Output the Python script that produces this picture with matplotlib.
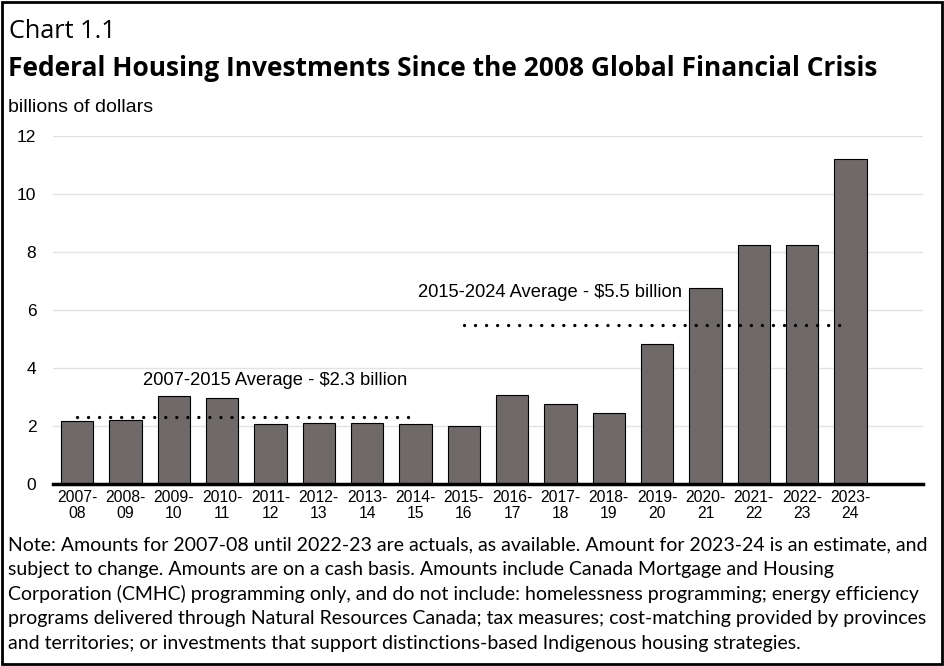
import matplotlib
matplotlib.use("Agg")
import matplotlib.pyplot as plt
from matplotlib.patches import Rectangle

# data
years = ["2007-\n08", "2008-\n09", "2009-\n10", "2010-\n11", "2011-\n12", "2012-\n13",
         "2013-\n14", "2014-\n15", "2015-\n16", "2016-\n17", "2017-\n18", "2018-\n19",
         "2019-\n20", "2020-\n21", "2021-\n22", "2022-\n23", "2023-\n24"]
values = [2.17, 2.2, 3.03, 2.97, 2.06, 2.1, 2.1, 2.06, 2.01, 3.06, 2.75, 2.46,
          4.83, 6.75, 8.23, 8.25, 11.22]
avg_early = 2.3
avg_late = 5.5
yticks = [0, 2, 4, 6, 8, 10, 12]

note_lines = [
    "Note: Amounts for 2007-08 until 2022-23 are actuals, as available. Amount for 2023-24 is an estimate, and",
    "subject to change. Amounts are on a cash basis. Amounts include Canada Mortgage and Housing",
    "Corporation (CMHC) programming only, and do not include: homelessness programming; energy efficiency",
    "programs delivered through Natural Resources Canada; tax measures; cost-matching provided by provinces",
    "and territories; or investments that support distinctions-based Indigenous housing strategies.",
]

W, H = 945, 666
fig = plt.figure(figsize=(W / 100, H / 100), dpi=100)

def fx(px):
    return px / W

def fy(py):
    return 1 - py / H

ax = fig.add_axes([fx(53), fy(484), fx(923) - fx(53), fy(136) - fy(484)])

x = list(range(len(values)))
ax.bar(x, values, width=0.675, color="#6f6a69", edgecolor="black", linewidth=0.8, zorder=3)

ax.set_xlim(-0.5, 17.5)
ax.set_ylim(0, 12)
ax.set_yticks(yticks)
ax.set_xticks(x)
ax.set_xticklabels(years, fontsize=11.3, family="Liberation Sans", linespacing=1.1)
ax.set_yticklabels([str(t) for t in yticks], fontsize=12.5, family="Liberation Sans")
ax.tick_params(axis="x", length=0, pad=4)
ax.tick_params(axis="y", length=0, pad=12)

ax.grid(axis="y", color="#e3e3e3", linewidth=1, zorder=0)
for s in ["top", "right", "left"]:
    ax.spines[s].set_visible(False)
ax.spines["bottom"].set_linewidth(2.5)
ax.spines["bottom"].set_zorder(4)

# average lines
ax.plot([0, 6.87], [avg_early, avg_early], color="black", linewidth=2.4,
        linestyle=(0, (0.01, 3.3)), dash_capstyle="round", zorder=5)
ax.plot([8, 15.9], [avg_late, avg_late], color="black", linewidth=2.4,
        linestyle=(0, (0.01, 3.3)), dash_capstyle="round", zorder=5)
ax.text(4.1, 3.56, "2007-2015 Average - $2.3 billion", ha="center", va="center",
        fontsize=13.2, family="Liberation Sans", zorder=6)
ax.text(9.78, 6.61, "2015-2024 Average - $5.5 billion", ha="center", va="center",
        fontsize=13.2, family="Liberation Sans", zorder=6)

# titles
fig.text(fx(9), fy(31), "Chart 1.1", ha="left", va="center", fontsize=18.2, family="Open Sans")
fig.text(fx(8), fy(68), "Federal Housing Investments Since the 2008 Global Financial Crisis",
         ha="left", va="center", fontsize=19, family="Open Sans", fontweight="bold")
fig.text(fx(8), fy(108), "billions of dollars", ha="left", va="center", fontsize=14,
         family="Liberation Sans")

for i, line in enumerate(note_lines):
    fig.text(fx(8), fy(545 + i * 24.5), line, ha="left", va="center", fontsize=14,
             family="Lato")

fig.patches.append(Rectangle((0.002, 0.003), 0.995, 0.994, transform=fig.transFigure,
                             fill=False, edgecolor="black", linewidth=2))

plt.savefig("out.png", dpi=100)
plt.close()
